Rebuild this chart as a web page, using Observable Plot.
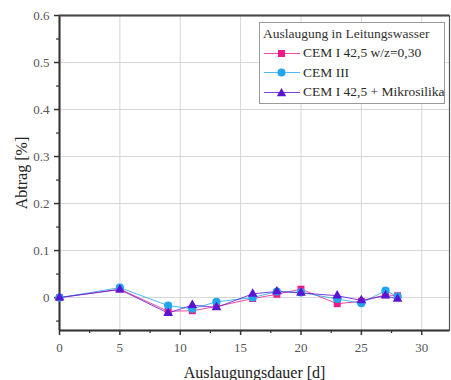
<!DOCTYPE html>
<html>
<head>
<meta charset="utf-8">
<script src="https://cdn.jsdelivr.net/npm/d3@7"></script>
<script src="https://cdn.jsdelivr.net/npm/@observablehq/plot@0.6"></script>
<style>
  html, body { margin: 0; padding: 0; background: #fff; }
  #wrap { position: relative; width: 451px; height: 380px; font-family: "Liberation Serif", "Times New Roman", serif; }
  #wrap svg, #wrap svg text { font-family: "Liberation Serif", "Times New Roman", serif !important; }
  #legend { position: absolute; left: 259px; top: 22px; width: 186px; height: 82px; box-sizing: border-box;
            border: 1px solid #9a9a9a; background: #fff; color: #2a2a2a; font-size: 13.5px; }
  #legend .title { position: absolute; left: 3px; top: 3px; white-space: nowrap; color: #333; }
  #legend .row { position: absolute; left: 3px; height: 18px; white-space: nowrap; display: flex; align-items: center; }
  #legend .row svg { flex: none; }
  #legend .row span { margin-left: 2px; }
</style>
</head>
<body>
<div id="wrap"></div>
<script>
// ---- data ----
const days = [0, 5, 9, 11, 13, 16, 18, 20, 23, 25, 27, 28];
const cemI_w030 = [0, 0.018, -0.029, -0.028, -0.019, -0.002, 0.007, 0.018, -0.013, -0.008, 0.006, 0.004];
const cemIII    = [0, 0.021, -0.017, -0.024, -0.009, 0.000, 0.013, 0.011, -0.003, -0.012, 0.015, 0.002];
const cemI_MS   = [0, 0.017, -0.033, -0.016, -0.021, 0.008, 0.013, 0.010, 0.004, -0.006, 0.004, -0.003];

const seriesNames = ["CEM I 42,5 w/z=0,30", "CEM III", "CEM I 42,5 + Mikrosilika"];
const seriesValues = [cemI_w030, cemIII, cemI_MS];
const seriesColors = ["#ee1a8a", "#1fa6ee", "#5a14d4"];
const seriesSymbols = ["square", "circle", "triangle"];
const seriesRadius = [3.9, 4.1, 3.6];
const legendTitle = "Auslaugung in Leitungswasser";

const xDomain = [0, 32.3];
const yDomain = [-0.07, 0.6];
const xTicks = [0, 5, 10, 15, 20, 25, 30];
const xMinorTicks = [2.5, 7.5, 12.5, 17.5, 22.5, 27.5];
const yTicks = [0, 0.1, 0.2, 0.3, 0.4, 0.5, 0.6];
const yMinorTicks = [-0.05, 0.05, 0.15, 0.25, 0.35, 0.45, 0.55];
const xLabel = "Auslaugungsdauer [d]";
const yLabel = "Abtrag [%]";

// ---- table ----
const rows = [];
seriesNames.forEach((s, i) => days.forEach((d, j) => rows.push({series: s, day: d, value: seriesValues[i][j]})));

const FONT = "Liberation Serif";

const dotMarks = seriesNames.map((s, i) =>
  Plot.dot(rows.filter(r => r.series === s), {
    x: "day", y: "value", fill: seriesColors[i], stroke: "none",
    symbol: () => seriesSymbols[i], r: seriesRadius[i]
  })
);

const chart = Plot.plot({
  width: 451, height: 380,
  marginLeft: 59, marginRight: 2, marginTop: 15, marginBottom: 50,
  style: { fontFamily: FONT, fontSize: "13px", background: "#fff", color: "#555" },
  x: { domain: xDomain },
  y: { domain: yDomain },
  symbol: { domain: seriesSymbols, range: seriesSymbols },
  color: { domain: seriesNames, range: seriesColors },
  marks: [
    Plot.gridX(xTicks.filter(t => t > xDomain[0]), { stroke: "#d6d6d6", strokeOpacity: 1, strokeWidth: 1 }),
    Plot.gridY(yTicks.filter(t => t < yDomain[1]), { stroke: "#d6d6d6", strokeOpacity: 1, strokeWidth: 1 }),
    Plot.frame({ stroke: "#555", strokeWidth: 1.2 }),
    Plot.ruleX([xDomain[0]], { stroke: "#333", strokeWidth: 2 }),
    Plot.ruleY([yDomain[0]], { stroke: "#333", strokeWidth: 2 }),
    Plot.ruleY([yDomain[1]], { stroke: "#444", strokeWidth: 1.8 }),
    Plot.axisX(xTicks, { tickSize: 5, tickPadding: 7, label: null, stroke: "#333", strokeWidth: 1.5, fill: "#555", fontFamily: FONT, fontSize: 13, tickFormat: d => String(d) }),
    Plot.axisX(xMinorTicks, { tickSize: 3, label: null, stroke: "#333", strokeWidth: 1.2, tickFormat: () => "" }),
    Plot.axisY(yTicks, { tickSize: 5, tickPadding: 5, label: null, stroke: "#333", strokeWidth: 1.5, fill: "#555", fontFamily: FONT, fontSize: 13, tickFormat: d => d === 0 ? "0" : d.toFixed(1) }),
    Plot.axisY(yMinorTicks, { tickSize: 3, label: null, stroke: "#333", strokeWidth: 1.2, tickFormat: () => "" }),
    Plot.line(rows, { x: "day", y: "value", z: "series", stroke: "series", strokeWidth: 0.8 }),
    ...dotMarks,
    Plot.text([xLabel], { frameAnchor: "bottom", textAnchor: "middle", dy: 47, fontSize: 16, fontFamily: FONT, fill: "#222" }),
    Plot.text([yLabel], { frameAnchor: "left", textAnchor: "middle", lineAnchor: "middle", dx: -38, rotate: -90, fontSize: 16, fontFamily: FONT, fill: "#222" })
  ]
});

const wrap = document.getElementById("wrap");
wrap.appendChild(chart);

// ---- legend (HTML overlay) ----
const legend = document.createElement("div");
legend.id = "legend";
const title = document.createElement("div");
title.className = "title";
title.textContent = legendTitle;
legend.appendChild(title);
const symPath = {
  square: '<rect x="15" y="5" width="7" height="7"/>',
  circle: '<circle cx="18.5" cy="8.5" r="4"/>',
  triangle: '<path d="M18.5 4 L23.2 12.2 L13.8 12.2 Z"/>'
};
seriesNames.forEach((s, i) => {
  const row = document.createElement("div");
  row.className = "row";
  row.style.top = (21 + i * 19.5) + "px";
  row.innerHTML = `<svg width="38" height="17" viewBox="0 0 38 17"><line x1="1" x2="37" y1="8.5" y2="8.5" stroke="${seriesColors[i]}" stroke-width="0.8"/><g fill="${seriesColors[i]}">${symPath[seriesSymbols[i]]}</g></svg><span></span>`;
  row.querySelector("span").textContent = s;
  legend.appendChild(row);
});
wrap.appendChild(legend);
</script>
</body>
</html>
